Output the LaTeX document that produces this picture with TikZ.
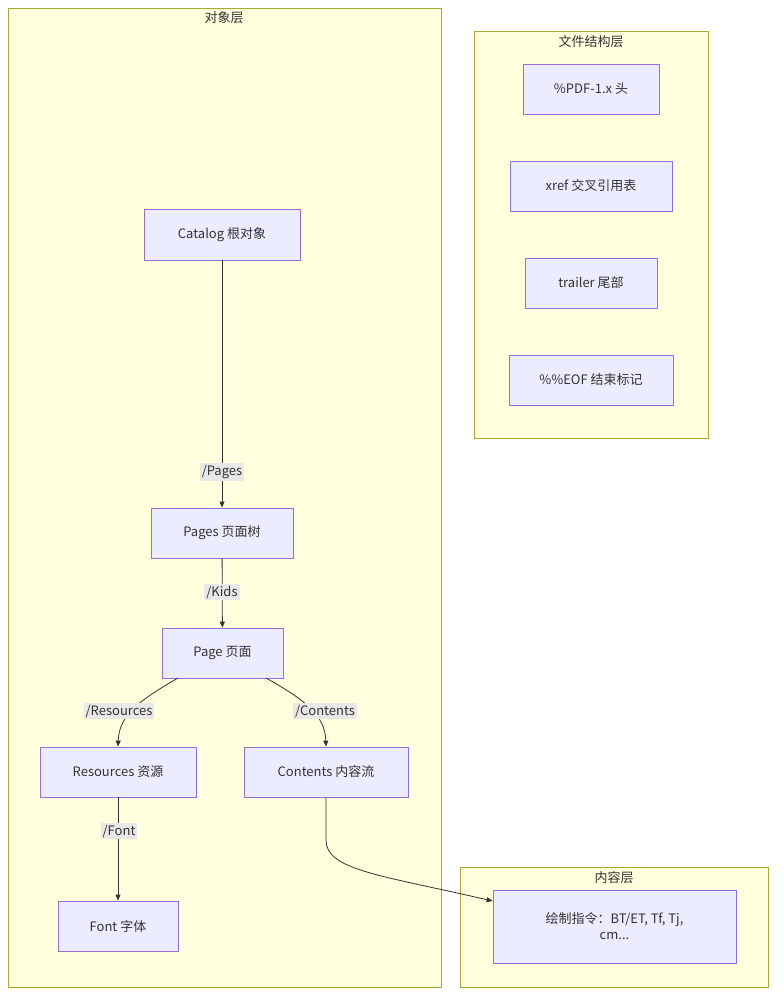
\documentclass[tikz,border=0pt]{standalone}
\usepackage{fontspec}
\setmainfont{Noto Sans CJK SC}
\usetikzlibrary{arrows.meta}
\definecolor{clf}{HTML}{FFFFDE}\definecolor{cld}{HTML}{AAAA33}
\definecolor{nf}{HTML}{ECECFF}\definecolor{nd}{HTML}{9370DB}
\definecolor{ln}{HTML}{333333}
\begin{document}
\begin{tikzpicture}[x=1pt,y=-1pt,font=\fontsize{13}{16}\selectfont,
 cl/.style={draw=cld,fill=clf,line width=0.8pt},
 nd/.style={draw=nd,fill=nf,line width=0.8pt,inner sep=0pt,align=center,text=ln},
 lb/.style={fill=black!9,inner sep=2pt,text=ln},
 ar/.style={draw=ln,line width=0.8pt,-{Triangle[length=6pt,width=5pt]}}]
\useasboundingbox (0,0) rectangle (784,1005);
\fill[white] (0,0) rectangle (784,1005);
\draw[cl] (8,8) rectangle (441,987);
\node[text=ln] at (224,18) {对象层};
\draw[cl] (474,31) rectangle (708,438);
\node[text=ln] at (591,42) {文件结构层};
\draw[cl] (460,867) rectangle (768,987);
\node[text=ln] at (614,878) {内容层};
\newcommand\bx[6]{\node[nd,minimum width=#4,minimum height=#5] (#1) at (#2,#3) {#6};}
\bx{cat}{222}{234.5}{156}{51}{Catalog 根对象}
\bx{pgs}{222}{533}{142}{50}{Pages 页面树}
\bx{pg}{222.5}{653}{121}{50}{Page 页面}
\bx{res}{118}{772}{156}{50}{Resources 资源}
\bx{con}{326}{772}{164}{50}{Contents 内容流}
\bx{fnt}{118}{926}{120}{50}{Font 字体}
\bx{pdf}{591}{89}{136}{50}{\%PDF-1.x 头}
\bx{xr}{591}{186}{162}{50}{xref 交叉引用表}
\bx{tr}{591}{283}{132}{50}{trailer 尾部}
\bx{eof}{591}{380}{164}{50}{\%\%EOF 结束标记}
\bx{draw}{614.5}{926.5}{243}{73}{绘制指令：BT/ET, Tf, Tj,\\cm...}
\draw[ar] (cat) -- (pgs);
\draw[ar] (pgs) -- (pg);
\draw[ar] (res) -- (fnt);
\draw[ar] (178,678) .. controls (140,700) and (119,715) .. (res.north);
\draw[ar] (266,678) .. controls (305,700) and (325,715) .. (con.north);
\draw[ar] (con.south) -- (326,840) .. controls (326,870) and (380,875) .. (draw.west |- 0,901);
\node[lb] at (222,472) {/Pages};
\node[lb] at (222,592) {/Kids};
\node[lb] at (119,711) {/Resources};
\node[lb] at (325,711) {/Contents};
\node[lb] at (119,831) {/Font};
\end{tikzpicture}
\end{document}
